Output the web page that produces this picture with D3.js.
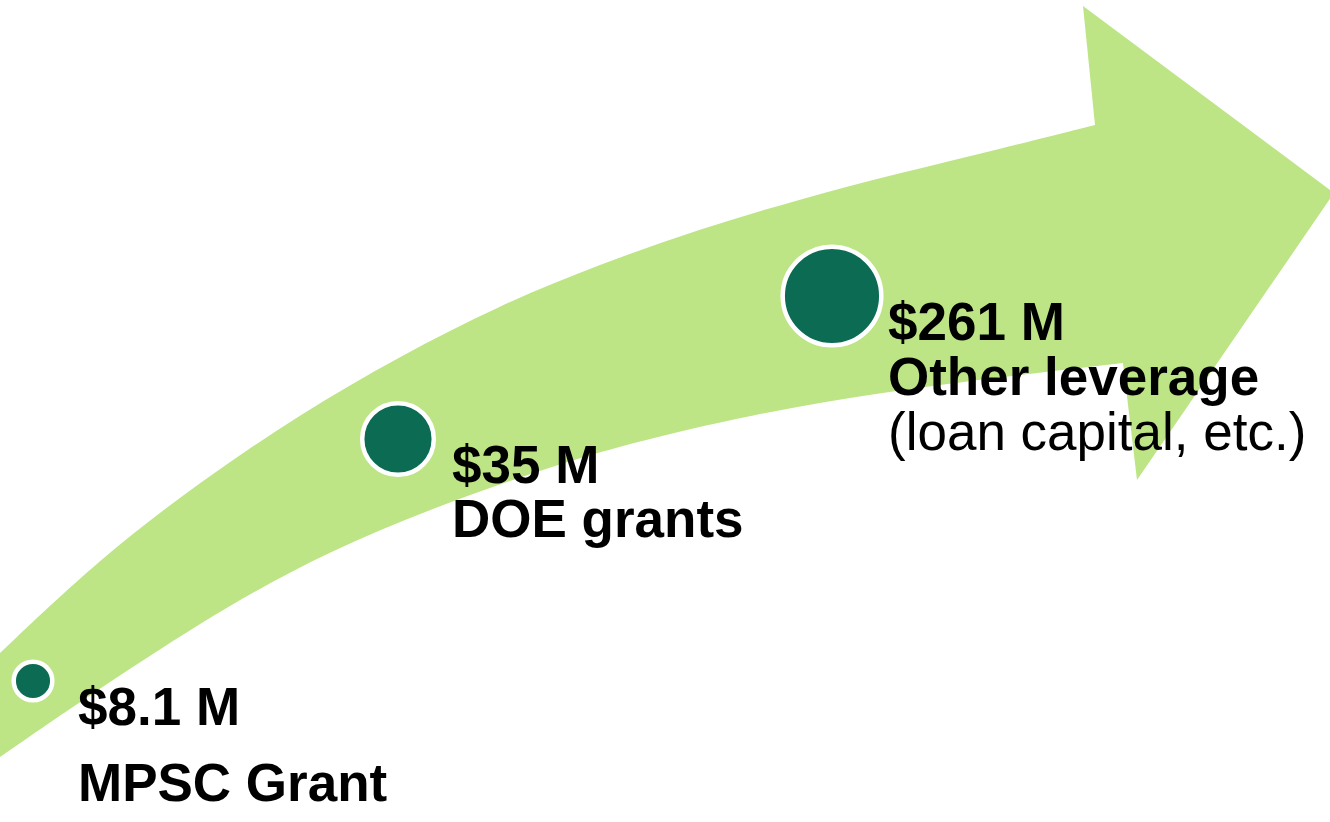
<!DOCTYPE html>
<meta charset="UTF-8">
<style>
body { margin: 0; background: #fff; }
.arrow { fill: #bde585; stroke: none; }
.dot { fill: #0b6c53; stroke: #fff; stroke-width: 4.5px; }
.lbl { font-family: "Liberation Sans", Arial, sans-serif; font-size: 53px; fill: #000; }
.lbl.b { font-weight: bold; }
</style>
<body>
<script src="https://d3js.org/d3.v7.min.js"></script>
<script>

// funding stages, left to right along the arrow
var categories = ["MPSC Grant", "DOE grants", "Other leverage"];
var amounts = [8.1, 35, 261];
var amountLabels = ["$8.1 M", "$35 M", "$261 M"];
var notes = ["", "", "(loan capital, etc.)"];

var width = 1330, height = 822;

var svg = d3.select("body").append("svg")
    .attr("width", width)
    .attr("height", height);

// background arrow (decoration only)
var upperEdge = [[0,653],[100,558],[200,482],[300,414],[400,356],[500,305],[600,264],
                 [700,229],[800,199],[900,173],[1000,149],[1095,125]];
var lowerEdge = [[0,757],[115,678],[230,604],[330,551],[430,509],[540,470],[630,443],
                 [750,415],[890,390],[1123,363]];
var head = [[1083,6],[1334,193],[1137,480]];

var curve = d3.line().curve(d3.curveBasis);
var outline = curve(upperEdge)
  + head.map(function(p){ return "L" + p[0] + "," + p[1]; }).join("")
  + curve(lowerEdge.slice().reverse()).replace(/^M/, "L")
  + "Z";

svg.append("path")
    .attr("class", "arrow")
    .attr("d", outline);

// placement of each stage
var x = d3.scaleOrdinal(categories, [33, 398, 832]);
var y = d3.scaleOrdinal(categories, [681, 439, 296]);
var r = d3.scaleOrdinal(categories, [19.3, 35.8, 49.3]);
var tx = d3.scaleOrdinal(categories, [78, 452, 888]);
var lineGap = d3.scaleOrdinal(categories, [76, 54, 55]);

var data = categories.map(function(c, i) {
  return {name: c, amount: amounts[i], label: amountLabels[i], note: notes[i]};
});

svg.selectAll("circle.dot")
    .data(data)
  .enter().append("circle")
    .attr("class", "dot")
    .attr("cx", function(d) { return x(d.name); })
    .attr("cy", function(d) { return y(d.name); })
    .attr("r", function(d) { return r(d.name); });

var g = svg.selectAll("g.stage")
    .data(data)
  .enter().append("g")
    .attr("class", "stage")
    .attr("transform", function(d) {
      return "translate(" + tx(d.name) + "," + (y(d.name) + 44) + ")";
    });

g.append("text")
    .attr("class", "lbl b")
    .text(function(d) { return d.label; });

g.append("text")
    .attr("class", "lbl b")
    .attr("y", function(d) { return lineGap(d.name); })
    .text(function(d) { return d.name; });

g.filter(function(d) { return d.note; })
  .append("text")
    .attr("class", "lbl")
    .attr("y", function(d) { return lineGap(d.name) * 2; })
    .text(function(d) { return d.note; });

</script>
</body>
